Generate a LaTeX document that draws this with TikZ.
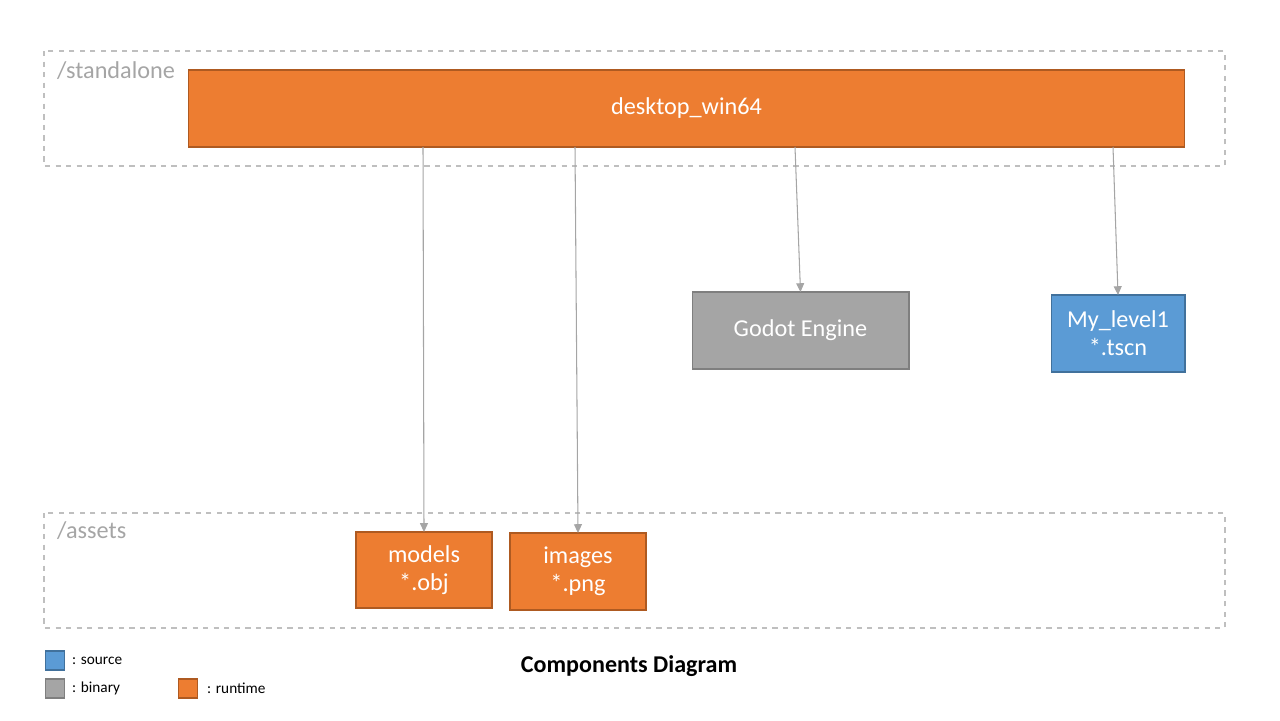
\documentclass[tikz,border=0pt]{standalone}
\usepackage{fontspec}
\setmainfont{Carlito}
\usetikzlibrary{arrows.meta}
\definecolor{runtimeorange}{HTML}{ED7D31}
\definecolor{runtimeedge}{HTML}{AE5A21}
\definecolor{sourceblue}{HTML}{5B9BD5}
\definecolor{sourceedge}{HTML}{41719C}
\definecolor{binarygray}{HTML}{A5A5A5}
\definecolor{binaryedge}{HTML}{7F7F7F}
\definecolor{framegray}{HTML}{BFBFBF}
\begin{document}
\begin{tikzpicture}[x=0.02cm, y=-0.02cm,
	box/.style={draw, line width=0.6pt, inner sep=0pt, outer sep=0pt, align=center,
		text=white, font=\fontsize{13.8}{16}\selectfont},
	runtime/.style={box, fill=runtimeorange, draw=runtimeedge},
	source/.style={box, fill=sourceblue, draw=sourceedge},
	binary/.style={box, fill=binarygray, draw=binaryedge},
	folder/.style={draw=framegray, dashed, line width=0.6pt},
	foldername/.style={anchor=west, text=binarygray, font=\fontsize{13.8}{16}\selectfont},
	dep/.style={draw=binarygray, line width=0.6pt, -{Triangle[length=5pt, width=4.5pt]}},
	legend/.style={anchor=west, font=\fontsize{8.7}{10}\selectfont}]
	\useasboundingbox (0, 0) rectangle (1280, 720);
	% folders
	\draw[folder] (44, 51) rectangle (1225, 166);
	\node[foldername] (standalonelbl) at (51, 71) {/standalone};
	\draw[folder] (44, 513) rectangle (1225, 628);
	\node[foldername] (assetslbl) at (51, 531) {/assets};
	% components
	\node[runtime, minimum width=19.94cm, minimum height=1.54cm] (desktop) at (686.5, 108.5) {desktop\_win64};
	\node[binary, minimum width=4.34cm, minimum height=1.54cm] (godot) at (800.5, 330.5) {Godot Engine};
	\node[source, minimum width=2.68cm, minimum height=1.54cm] (level) at (1118, 333.5) {My\_level1\\*.tscn};
	\node[runtime, minimum width=2.72cm, minimum height=1.52cm] (models) at (424, 570) {models\\*.obj};
	\node[runtime, minimum width=2.72cm, minimum height=1.54cm] (images) at (578, 571.5) {images\\*.png};
	% dependencies
	\coordinate (d1) at (423, 147);
	\coordinate (d2) at (575, 147);
	\coordinate (d3) at (795, 147);
	\coordinate (d4) at (1113, 147);
	\draw[dep] (d1) -- (models.north);
	\draw[dep] (d2) -- (images.north);
	\draw[dep] (d3) -- (godot.north);
	\draw[dep] (d4) -- (level.north);
	% legend
	\node[source, minimum size=0.38cm] (srckey) at (55, 660.5) {};
	\node[legend] (srctxt) at (66, 660.5) {: source};
	\node[binary, minimum size=0.38cm] (binkey) at (55, 688.5) {};
	\node[legend] (bintxt) at (66, 688.5) {: binary};
	\node[runtime, minimum size=0.38cm] (runkey) at (188, 688.5) {};
	\node[legend] (runtxt) at (201, 688.5) {: runtime};
	\node[font=\bfseries\fontsize{13.7}{16}\selectfont] (title) at (629, 666) {Components Diagram};
\end{tikzpicture}
\end{document}
